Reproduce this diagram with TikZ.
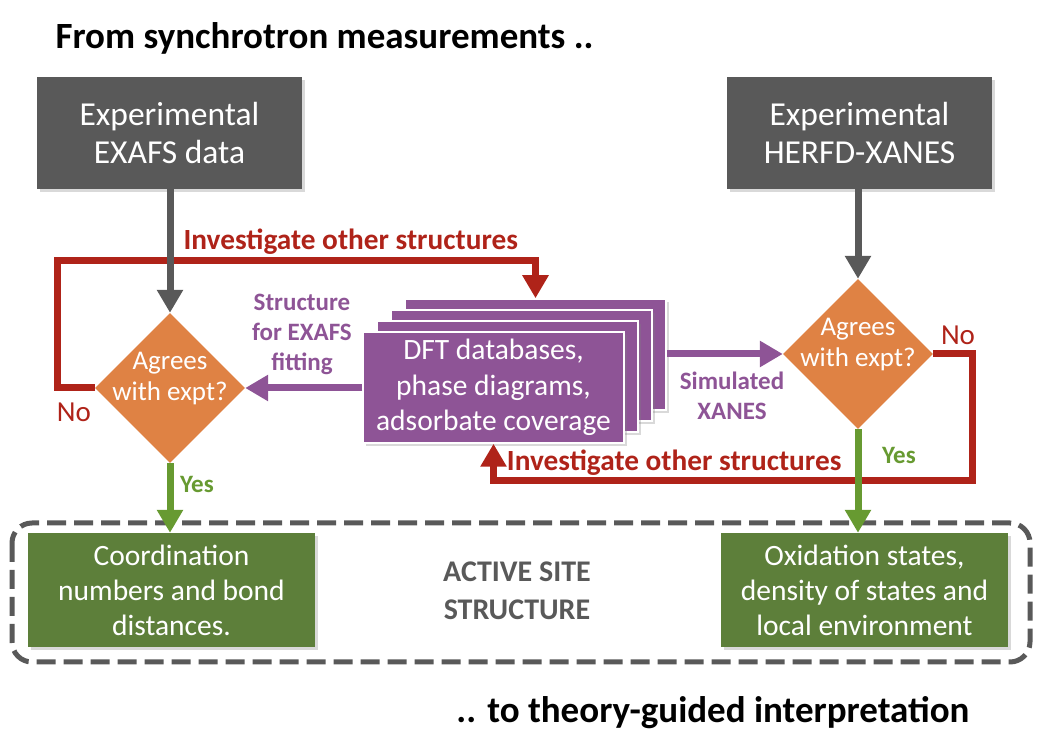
\documentclass[tikz,border=0pt]{standalone}
\usepackage{fontspec}
\setmainfont{Carlito}
\usepackage{tikz}
\usetikzlibrary{shadows}
\usetikzlibrary{arrows.meta,shapes}
\usetikzlibrary{calc}

\definecolor{expgray}{HTML}{595959}
\definecolor{dftpurple}{HTML}{8E5496}
\definecolor{agreeorange}{HTML}{DF8244}
\definecolor{loopred}{HTML}{AF2319}
\definecolor{resgreen}{HTML}{5D7F3A}
\definecolor{yesgreen}{HTML}{679A31}

\newcommand{\sizeto}[2]{\fontsize{#1}{#2}\selectfont}

\begin{document}
\begin{tikzpicture}[x=1pt, y=1pt,
	box/.style={rectangle, inner sep=0pt, text=white, align=center, drop shadow={shadow xshift=2.5pt, shadow yshift=-3pt, opacity=0.3}},
	decide/.style={diamond, fill=agreeorange, minimum width=150pt, minimum height=150pt, inner sep=0pt},
	flow/.style={line width=7pt, -{Triangle[length=23pt, width=25pt]}},
	retry/.style={flow, loopred},
	lbl/.style={font=\bfseries\sizeto{25}{30}, align=center}]
	\useasboundingbox (0,0) rectangle (1039,741);
	\draw[expgray, line width=5pt, dash pattern=on 19pt off 8pt, rounded corners=20pt] (12,218) rectangle (1030,79);

	\node[anchor=base west, font=\bfseries\sizeto{37}{42}] (title) at (52,692) {From synchrotron measurements ..};
	\node[anchor=base east, font=\bfseries\sizeto{37}{42}] (footer) at (973,18) {.. to theory-guided interpretation};

	\node[box, fill=expgray, minimum width=265pt, minimum height=112pt, font=\sizeto{33.5}{38}] (exafs) at (169.5,608) {Experimental\\EXAFS data};
	\node[box, fill=expgray, minimum width=265pt, minimum height=112pt, font=\sizeto{33.5}{38}] (herfd) at (859.5,608) {Experimental\\HERFD-XANES};

	\node[decide] (agree1) at (170,353) {};
	\node[text=white, font=\sizeto{27}{31}, align=center] (agree1txt) at ($(agree1)+(0,9)$) {Agrees\\with expt?};
	\node[decide] (agree2) at (858,387) {};
	\node[text=white, font=\sizeto{27}{31}, align=center] (agree2txt) at ($(agree2)+(0,9)$) {Agrees\\with expt?};

	\foreach \i in {3,2,1}
		\node[box, fill=dftpurple, draw=white, line width=1.5pt, minimum width=261pt, minimum height=111pt] (dft\i) at ({493.5+14*\i},{353.5+11*\i}) {};
	\node[box, fill=dftpurple, draw=white, line width=1.5pt, minimum width=261pt, minimum height=111pt, font=\sizeto{29.5}{35.5}] (dft) at (493.5,353.5) {DFT databases,\\phase diagrams,\\adsorbate coverage};

	\node[box, fill=resgreen, minimum width=287pt, minimum height=114pt, font=\sizeto{29.5}{35}] (coord) at (171.5,151) {Coordination\\numbers and bond\\distances.};
	\node[box, fill=resgreen, minimum width=287pt, minimum height=114pt, font=\sizeto{29.5}{35}] (oxid) at (864.5,151) {Oxidation states,\\density of states and\\local environment};
	\node[font=\bfseries\sizeto{30}{38}, text=expgray, align=center] (active) at (517,150) {ACTIVE SITE\\STRUCTURE};

	\coordinate (loopL) at (57,480);
	\coordinate (loopR) at (972,260);
	\draw[retry] (agree1.west) -- (agree1.west -| loopL) -- (loopL) -| (dft3.north);
	\draw[retry] (agree2.east) -| (loopR) -| (dft.south);

	\node[anchor=base west, text=loopred, font=\bfseries\sizeto{29.3}{34}] (retry1) at (180,491) {Investigate other structures};
	\node[anchor=base east, text=loopred, font=\bfseries\sizeto{29.3}{34}] (retry2) at (845,270) {Investigate other structures};
	\node[text=loopred, font=\sizeto{29}{34}] (no1) at (74,329) {No};
	\node[text=loopred, font=\sizeto{29}{34}] (no2) at (958,406) {No};
	\node[lbl, text=yesgreen] (yes1) at (197,257) {Yes};
	\node[lbl, text=yesgreen] (yes2) at (899,286) {Yes};
	\node[lbl, text=dftpurple] (fitlbl) at (302,407) {Structure\\for EXAFS\\fitting};
	\node[lbl, text=dftpurple] (simlbl) at (732,345) {Simulated\\XANES};

	\draw[flow, expgray] (exafs.south -| agree1.north) -- (agree1.north);
	\draw[flow, expgray] (herfd.south -| agree2.north) -- (agree2.north);
	\draw[flow, dftpurple] (agree1.east -| dft.west) -- (agree1.east);
	\draw[flow, dftpurple] (agree2.west -| dft3.east) -- (agree2.west);
	\draw[flow, yesgreen] (agree1.south) -- (agree1.south |- coord.north);
	\draw[flow, yesgreen] (agree2.south) -- (agree2.south |- oxid.north);
\end{tikzpicture}
\end{document}
